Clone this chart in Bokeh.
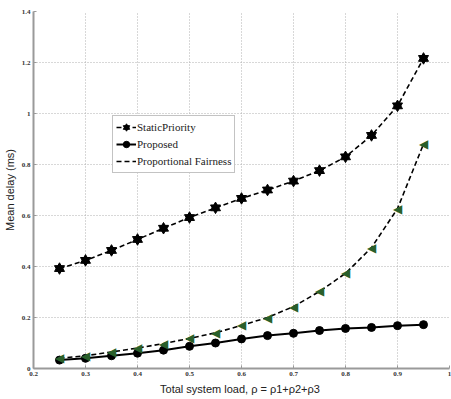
from bokeh.plotting import figure
from bokeh.models import FixedTicker, Legend, LegendItem, Range1d
from bokeh.core.properties import value
from bokeh.embed import file_html
from bokeh.resources import INLINE

load = [0.25, 0.30, 0.35, 0.40, 0.45, 0.50, 0.55, 0.60, 0.65, 0.70, 0.75, 0.80, 0.85, 0.90, 0.95]
static_priority = [0.392, 0.424, 0.463, 0.506, 0.550, 0.592, 0.630, 0.667, 0.700, 0.735, 0.776, 0.830, 0.914, 1.030, 1.216]
proposed = [0.033, 0.040, 0.050, 0.060, 0.072, 0.087, 0.100, 0.116, 0.129, 0.138, 0.149, 0.157, 0.161, 0.168, 0.172]
prop_fairness = [0.040, 0.050, 0.065, 0.080, 0.098, 0.118, 0.140, 0.169, 0.200, 0.243, 0.302, 0.373, 0.474, 0.627, 0.880]

x_ticks = [0.2, 0.3, 0.4, 0.5, 0.6, 0.7, 0.8, 0.9, 1.0]
x_tick_labels = ["0.2", "0.3", "0.4", "0.5", "0.6", "0.7", "0.8", "0.9", "1"]
y_ticks = [0, 0.2, 0.4, 0.6, 0.8, 1.0, 1.2, 1.4]
y_tick_labels = ["0", "0.2", "0.4", "0.6", "0.8", "1", "1.2", "1.4"]

p = figure(width=451, height=399, output_backend="svg", toolbar_location=None,
           x_range=Range1d(0.2, 1.0), y_range=Range1d(0, 1.4),
           min_border_left=33, min_border_right=2, min_border_top=11, min_border_bottom=31)
p.outline_line_color = None
p.background_fill_color = "white"

for ax in (p.xaxis[0], p.yaxis[0]):
    ax.axis_line_color = "#9a9a9a"
    ax.axis_line_width = 2
    ax.major_tick_in = 3
    ax.major_tick_out = 0
    ax.minor_tick_line_color = None
    ax.major_tick_line_color = "#9a9a9a"
    ax.major_label_text_font = "Liberation Serif"
    ax.major_label_text_font_size = "7px"
    ax.major_label_text_font_style = "bold"
    ax.major_label_text_color = "#333333"
    ax.axis_label_text_font = "Liberation Sans"
    ax.axis_label_text_font_size = "11px"
    ax.axis_label_text_font_style = "normal"
    ax.axis_label_text_color = "#222222"

p.xaxis[0].ticker = FixedTicker(ticks=x_ticks)
p.xaxis[0].major_label_overrides = {t: l for t, l in zip(x_ticks, x_tick_labels)}
p.yaxis[0].ticker = FixedTicker(ticks=y_ticks)
p.yaxis[0].major_label_overrides = {t: l for t, l in zip(y_ticks, y_tick_labels)}
p.xaxis[0].axis_label = "Total system load,  \u03c1 = \u03c11+\u03c12+\u03c13"
p.yaxis[0].axis_label = "Mean delay (ms)"
p.xaxis[0].major_label_standoff = 3
p.xaxis[0].axis_label_standoff = 4
p.yaxis[0].major_label_standoff = 3
p.yaxis[0].axis_label_standoff = 3

p.xgrid.grid_line_color = "#b0b0b0"
p.ygrid.grid_line_color = "#b0b0b0"
p.xgrid.grid_line_dash = "1 2"
p.ygrid.grid_line_dash = "1 2"
p.xgrid.ticker = FixedTicker(ticks=x_ticks)
p.ygrid.ticker = FixedTicker(ticks=y_ticks)

# Static priority: dashed line with hexagram markers
l1 = p.line(load, static_priority, line_color="black", line_width=1.6, line_dash="5 3")
m1a = p.scatter(load, static_priority, marker="triangle", size=10, fill_color="black", line_color="black")
m1b = p.scatter(load, static_priority, marker="inverted_triangle", size=10, fill_color="black", line_color="black")

# Proposed: solid line with circles
l2 = p.line(load, proposed, line_color="black", line_width=2)
m2 = p.scatter(load, proposed, marker="circle", size=8, fill_color="black", line_color="black")

# Proportional fairness: dashed line with left-pointing triangles
l3 = p.line(load, prop_fairness, line_color="black", line_width=1.6, line_dash="5 3")
m3 = p.text(load, prop_fairness, text=["\u25c0"] * len(load), text_align="center",
            text_baseline="middle", text_font=value("DejaVu Sans"), text_font_size="12px",
            text_color="#2a5f2a")

legend = Legend(items=[
    LegendItem(label="StaticPriority", renderers=[l1, m1a, m1b]),
    LegendItem(label="Proposed", renderers=[l2, m2]),
    LegendItem(label="Proportional Fairness", renderers=[l3, m3]),
], location=(79, 195))
legend.label_text_font = "Liberation Sans Narrow"
legend.label_text_font_size = "11px"
legend.label_text_color = "#222222"
legend.border_line_color = "#888888"
legend.border_line_width = 1
legend.background_fill_alpha = 1
legend.padding = 3
legend.margin = 0
legend.spacing = 1
legend.glyph_width = 20
legend.glyph_height = 16
legend.label_height = 16
legend.label_standoff = 1
p.add_layout(legend, "center")

open("out.html", "w").write(file_html(p, INLINE))
